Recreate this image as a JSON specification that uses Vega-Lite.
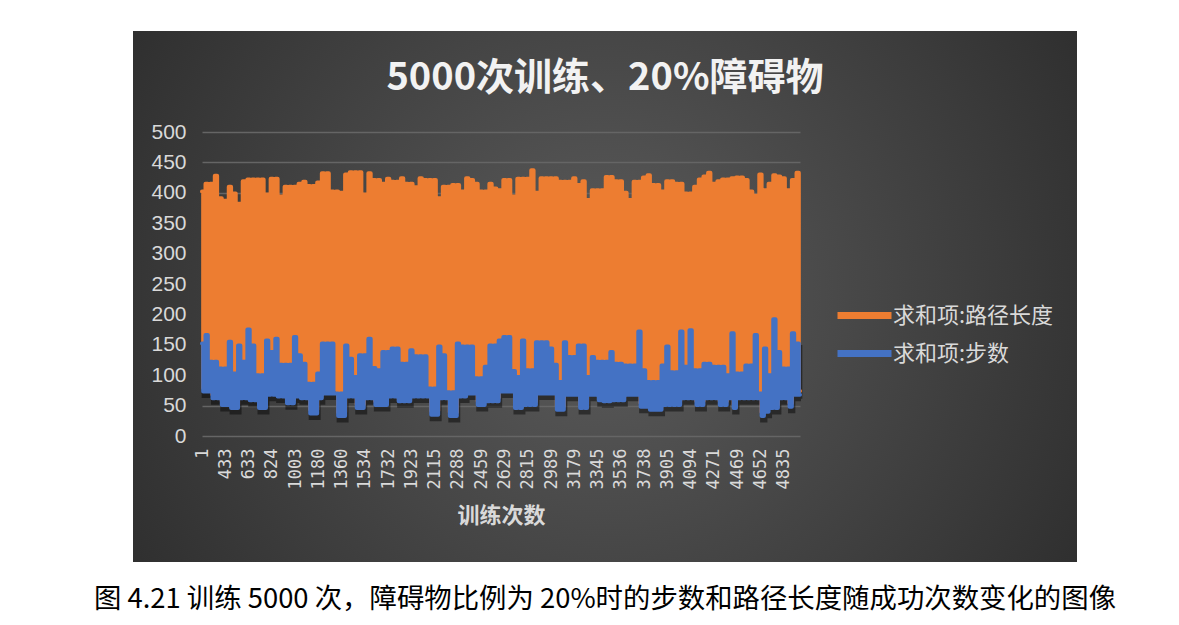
{
  "$schema": "https://vega.github.io/schema/vega-lite/v6.json",
  "background": "white",
  "padding": {"left": 93, "top": 31, "right": 0, "bottom": 8},
  "title": {
    "text": "图 4.21 训练 5000 次，障碍物比例为 20%时的步数和路径长度随成功次数变化的图像",
    "orient": "bottom", "anchor": "middle", "offset": 24,
    "font": "Noto Sans CJK SC", "fontSize": 27.4, "fontWeight": "normal", "color": "#000000"
  },
  "vconcat": [
    {
      "width": 944,
      "height": 531,
      "view": {
        "stroke": null,
        "fill": {"gradient": "radial", "x1": 0.5, "y1": 0.5, "r1": 0, "x2": 0.5, "y2": 0.5, "r2": 0.72,
          "stops": [{"offset": 0, "color": "#5c5c5c"}, {"offset": 1, "color": "#242424"}]}
      },
      "title": {
        "text": "5000次训练、20%障碍物", "anchor": "middle", "frame": "group", "offset": -67,
        "font": "Noto Sans CJK SC", "fontSize": 38, "fontWeight": "bold", "color": "#f2f2f2"
      },
      "data": {"values": [
{"n":1,"length":402,"steps":152},{"n":12,"length":79,"steps":73},
{"n":58,"length":415,"steps":166},{"n":103,"length":79,"steps":73},
{"n":149,"length":415,"steps":122},{"n":196,"length":68,"steps":62},
{"n":248,"length":428,"steps":122},{"n":291,"length":68,"steps":62},
{"n":340,"length":391,"steps":111},{"n":388,"length":57,"steps":51},
{"n":433,"length":387,"steps":111},{"n":452,"length":57,"steps":51},
{"n":475,"length":410,"steps":155},{"n":494,"length":52,"steps":46},
{"n":513,"length":399,"steps":103},{"n":534,"length":52,"steps":46},
{"n":553,"length":382,"steps":149},{"n":572,"length":68,"steps":62},
{"n":593,"length":419,"steps":122},{"n":612,"length":68,"steps":62},
{"n":633,"length":422,"steps":175},{"n":651,"length":65,"steps":59},
{"n":672,"length":422,"steps":149},{"n":690,"length":65,"steps":59},
{"n":709,"length":422,"steps":100},{"n":728,"length":52,"steps":46},
{"n":748,"length":422,"steps":100},{"n":766,"length":52,"steps":46},
{"n":785,"length":397,"steps":157},{"n":806,"length":74,"steps":68},
{"n":824,"length":423,"steps":138},{"n":842,"length":74,"steps":68},
{"n":859,"length":423,"steps":160},{"n":877,"length":71,"steps":65},
{"n":896,"length":394,"steps":117},{"n":913,"length":71,"steps":65},
{"n":931,"length":410,"steps":117},{"n":950,"length":60,"steps":54},
{"n":968,"length":410,"steps":117},{"n":985,"length":60,"steps":54},
{"n":1003,"length":410,"steps":163},{"n":1021,"length":71,"steps":65},
{"n":1038,"length":415,"steps":133},{"n":1056,"length":68,"steps":62},
{"n":1073,"length":418,"steps":119},{"n":1091,"length":68,"steps":62},
{"n":1109,"length":411,"steps":86},{"n":1127,"length":43,"steps":37},
{"n":1145,"length":411,"steps":86},{"n":1162,"length":43,"steps":37},
{"n":1180,"length":417,"steps":103},{"n":1198,"length":68,"steps":62},
{"n":1216,"length":432,"steps":152},{"n":1234,"length":76,"steps":70},
{"n":1252,"length":432,"steps":152},{"n":1270,"length":76,"steps":70},
{"n":1288,"length":402,"steps":152},{"n":1306,"length":76,"steps":70},
{"n":1324,"length":402,"steps":70},{"n":1342,"length":39,"steps":33},
{"n":1360,"length":400,"steps":70},{"n":1377,"length":39,"steps":33},
{"n":1395,"length":430,"steps":149},{"n":1412,"length":71,"steps":65},
{"n":1429,"length":434,"steps":127},{"n":1447,"length":71,"steps":65},
{"n":1464,"length":434,"steps":97},{"n":1481,"length":52,"steps":46},
{"n":1499,"length":434,"steps":133},{"n":1516,"length":52,"steps":46},
{"n":1534,"length":397,"steps":133},{"n":1554,"length":68,"steps":62},
{"n":1574,"length":432,"steps":160},{"n":1594,"length":68,"steps":62},
{"n":1613,"length":421,"steps":112},{"n":1633,"length":57,"steps":51},
{"n":1653,"length":421,"steps":108},{"n":1673,"length":57,"steps":51},
{"n":1693,"length":415,"steps":138},{"n":1712,"length":57,"steps":51},
{"n":1732,"length":423,"steps":138},{"n":1751,"length":71,"steps":65},
{"n":1770,"length":418,"steps":144},{"n":1789,"length":71,"steps":65},
{"n":1808,"length":418,"steps":144},{"n":1827,"length":63,"steps":57},
{"n":1846,"length":424,"steps":119},{"n":1865,"length":63,"steps":57},
{"n":1884,"length":415,"steps":119},{"n":1904,"length":63,"steps":57},
{"n":1923,"length":415,"steps":141},{"n":1942,"length":71,"steps":65},
{"n":1961,"length":409,"steps":131},{"n":1980,"length":71,"steps":65},
{"n":2000,"length":424,"steps":131},{"n":2019,"length":71,"steps":65},
{"n":2038,"length":421,"steps":131},{"n":2057,"length":71,"steps":65},
{"n":2076,"length":421,"steps":78},{"n":2096,"length":41,"steps":35},
{"n":2115,"length":421,"steps":78},{"n":2132,"length":41,"steps":35},
{"n":2149,"length":391,"steps":147},{"n":2167,"length":68,"steps":62},
{"n":2184,"length":410,"steps":133},{"n":2201,"length":68,"steps":62},
{"n":2219,"length":410,"steps":72},{"n":2236,"length":39,"steps":33},
{"n":2253,"length":413,"steps":72},{"n":2271,"length":39,"steps":33},
{"n":2288,"length":413,"steps":152},{"n":2305,"length":71,"steps":65},
{"n":2322,"length":402,"steps":147},{"n":2339,"length":71,"steps":65},
{"n":2356,"length":424,"steps":147},{"n":2373,"length":76,"steps":70},
{"n":2390,"length":421,"steps":147},{"n":2407,"length":76,"steps":70},
{"n":2424,"length":415,"steps":95},{"n":2442,"length":57,"steps":51},
{"n":2459,"length":402,"steps":95},{"n":2476,"length":57,"steps":51},
{"n":2493,"length":402,"steps":114},{"n":2510,"length":63,"steps":57},
{"n":2527,"length":415,"steps":149},{"n":2544,"length":63,"steps":57},
{"n":2561,"length":407,"steps":149},{"n":2578,"length":63,"steps":57},
{"n":2595,"length":404,"steps":157},{"n":2612,"length":79,"steps":73},
{"n":2629,"length":421,"steps":163},{"n":2648,"length":79,"steps":73},
{"n":2666,"length":421,"steps":163},{"n":2685,"length":79,"steps":73},
{"n":2703,"length":394,"steps":107},{"n":2722,"length":52,"steps":46},
{"n":2741,"length":423,"steps":97},{"n":2759,"length":52,"steps":46},
{"n":2778,"length":423,"steps":157},{"n":2796,"length":57,"steps":51},
{"n":2815,"length":423,"steps":108},{"n":2832,"length":57,"steps":51},
{"n":2850,"length":437,"steps":108},{"n":2867,"length":57,"steps":51},
{"n":2884,"length":400,"steps":154},{"n":2902,"length":76,"steps":70},
{"n":2919,"length":424,"steps":154},{"n":2937,"length":76,"steps":70},
{"n":2954,"length":424,"steps":154},{"n":2971,"length":76,"steps":70},
{"n":2989,"length":424,"steps":144},{"n":3008,"length":76,"steps":70},
{"n":3027,"length":424,"steps":117},{"n":3046,"length":49,"steps":43},
{"n":3065,"length":418,"steps":89},{"n":3084,"length":49,"steps":43},
{"n":3103,"length":418,"steps":154},{"n":3122,"length":74,"steps":68},
{"n":3141,"length":418,"steps":130},{"n":3160,"length":74,"steps":68},
{"n":3179,"length":424,"steps":130},{"n":3196,"length":74,"steps":68},
{"n":3212,"length":413,"steps":149},{"n":3229,"length":52,"steps":46},
{"n":3245,"length":419,"steps":149},{"n":3262,"length":52,"steps":46},
{"n":3279,"length":388,"steps":97},{"n":3295,"length":74,"steps":68},
{"n":3312,"length":404,"steps":130},{"n":3328,"length":74,"steps":68},
{"n":3345,"length":404,"steps":122},{"n":3364,"length":65,"steps":59},
{"n":3383,"length":404,"steps":122},{"n":3402,"length":63,"steps":57},
{"n":3421,"length":426,"steps":122},{"n":3440,"length":63,"steps":57},
{"n":3459,"length":426,"steps":138},{"n":3478,"length":65,"steps":59},
{"n":3497,"length":419,"steps":119},{"n":3517,"length":65,"steps":59},
{"n":3536,"length":419,"steps":119},{"n":3556,"length":65,"steps":59},
{"n":3576,"length":400,"steps":116},{"n":3597,"length":74,"steps":68},
{"n":3617,"length":388,"steps":116},{"n":3637,"length":74,"steps":68},
{"n":3657,"length":418,"steps":116},{"n":3677,"length":74,"steps":68},
{"n":3698,"length":418,"steps":172},{"n":3718,"length":54,"steps":48},
{"n":3738,"length":425,"steps":108},{"n":3755,"length":54,"steps":48},
{"n":3771,"length":429,"steps":89},{"n":3788,"length":49,"steps":43},
{"n":3805,"length":413,"steps":89},{"n":3821,"length":49,"steps":43},
{"n":3838,"length":413,"steps":89},{"n":3855,"length":49,"steps":43},
{"n":3871,"length":402,"steps":116},{"n":3888,"length":57,"steps":51},
{"n":3905,"length":419,"steps":147},{"n":3924,"length":57,"steps":51},
{"n":3943,"length":419,"steps":105},{"n":3962,"length":57,"steps":51},
{"n":3981,"length":415,"steps":105},{"n":4000,"length":57,"steps":51},
{"n":4018,"length":415,"steps":172},{"n":4037,"length":68,"steps":62},
{"n":4056,"length":399,"steps":114},{"n":4075,"length":68,"steps":62},
{"n":4094,"length":399,"steps":174},{"n":4112,"length":68,"steps":62},
{"n":4129,"length":410,"steps":108},{"n":4147,"length":57,"steps":51},
{"n":4165,"length":422,"steps":108},{"n":4183,"length":57,"steps":51},
{"n":4200,"length":427,"steps":119},{"n":4218,"length":68,"steps":62},
{"n":4236,"length":433,"steps":119},{"n":4253,"length":68,"steps":62},
{"n":4271,"length":415,"steps":114},{"n":4291,"length":68,"steps":62},
{"n":4311,"length":419,"steps":114},{"n":4330,"length":57,"steps":51},
{"n":4350,"length":422,"steps":114},{"n":4370,"length":57,"steps":51},
{"n":4390,"length":422,"steps":100},{"n":4410,"length":68,"steps":62},
{"n":4429,"length":424,"steps":169},{"n":4449,"length":52,"steps":46},
{"n":4469,"length":425,"steps":103},{"n":4487,"length":68,"steps":62},
{"n":4506,"length":425,"steps":103},{"n":4524,"length":68,"steps":62},
{"n":4542,"length":421,"steps":116},{"n":4561,"length":68,"steps":62},
{"n":4579,"length":402,"steps":116},{"n":4597,"length":68,"steps":62},
{"n":4616,"length":395,"steps":166},{"n":4634,"length":68,"steps":62},
{"n":4652,"length":430,"steps":70},{"n":4670,"length":39,"steps":33},
{"n":4689,"length":404,"steps":144},{"n":4707,"length":46,"steps":40},
{"n":4725,"length":415,"steps":100},{"n":4744,"length":52,"steps":46},
{"n":4762,"length":429,"steps":192},{"n":4780,"length":52,"steps":46},
{"n":4799,"length":427,"steps":138},{"n":4817,"length":68,"steps":62},
{"n":4835,"length":424,"steps":111},{"n":4853,"length":68,"steps":62},
{"n":4872,"length":404,"steps":111},{"n":4890,"length":54,"steps":48},
{"n":4909,"length":421,"steps":169},{"n":4927,"length":74,"steps":68},
{"n":4946,"length":433,"steps":152},{"n":4964,"length":74,"steps":68}
      ]},
      "transform": [{"fold": ["length", "steps"], "as": ["series", "value"]}],
      "encoding": {
        "x": {
          "field": "n", "type": "ordinal",
          "scale": {"type": "point", "padding": 0, "range": [69, 667]},
          "axis": {
            "values": [1,433,633,824,1003,1180,1360,1534,1732,1923,2115,2288,2459,2629,2815,2989,3179,3345,3536,3738,3905,4094,4271,4469,4652,4835],
            "labelAngle": -90, "labelFont": "DejaVu Sans Mono", "labelFontSize": 17, "labelColor": "#d9d9d9",
            "labelPadding": 12, "labelOverlap": false, "ticks": false, "domain": false, "grid": false, "offset": -126,
            "title": "训练次数", "titleFont": "Noto Sans CJK SC", "titleFontSize": 22, "titleFontWeight": "bold",
            "titleColor": "#d9d9d9", "titlePadding": 17
          }
        },
        "y": {
          "field": "value", "type": "quantitative",
          "scale": {"domain": [0, 500], "range": [405, 101], "nice": false, "zero": true},
          "axis": {
            "values": [0,50,100,150,200,250,300,350,400,450,500],
            "grid": true, "gridColor": "#656565", "gridWidth": 1.5, "ticks": false, "domain": false,
            "offset": -68, "labelPadding": 15, "labelFont": "Liberation Sans", "labelFontSize": 21,
            "labelColor": "#d9d9d9", "title": null
          }
        }
      },
      "layer": [
        {
          "transform": [{"filter": "datum.series === 'steps'"}],
          "mark": {"type": "line", "interpolate": "step", "color": "#000000", "opacity": 0.45, "strokeWidth": 5, "yOffset": 4, "xOffset": 1}
        },
        {
          "transform": [{"filter": "datum.series === 'length'"}],
          "mark": {"type": "line", "interpolate": "step", "strokeWidth": 4, "strokeCap": "round", "strokeJoin": "round"},
          "encoding": {
            "color": {
              "field": "series", "type": "nominal",
              "scale": {"domain": ["length", "steps"], "range": ["#ED7D31", "#4472C4"]},
              "legend": {
                "orient": "none", "legendX": 708, "legendY": 261, "title": null, "padding": 0,
                "symbolType": "M-1.35,0H1.35", "symbolStrokeWidth": 7, "symbolSize": 1600,
                "symbolStrokeCap": "round",
                "labelFont": "Noto Sans CJK SC", "labelFontSize": 22, "labelColor": "#d9d9d9",
                "labelOffset": 5, "rowPadding": 0, "labelLimit": 300,
                "labelExpr": "datum.label === 'length' ? '求和项:路径长度' : '求和项:步数'"
              }
            }
          }
        },
        {
          "transform": [{"filter": "datum.series === 'steps'"}],
          "mark": {"type": "line", "interpolate": "step", "strokeWidth": 4, "strokeCap": "round", "strokeJoin": "round"},
          "encoding": {
            "color": {
              "field": "series", "type": "nominal",
              "scale": {"domain": ["length", "steps"], "range": ["#ED7D31", "#4472C4"]}
            }
          }
        }
      ]
    }
  ]
}
